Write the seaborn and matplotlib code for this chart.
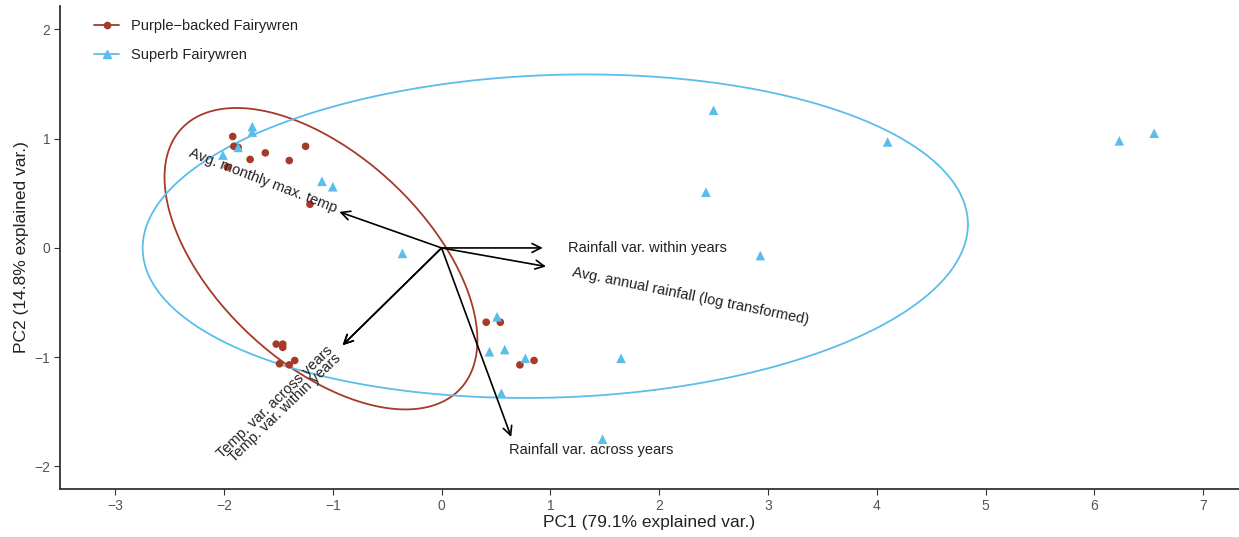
import numpy as np
import pandas as pd
import matplotlib
matplotlib.use("Agg")
import matplotlib.pyplot as plt
from matplotlib.lines import Line2D
import seaborn as sns

# ---- data ----
pb_x = [-1.92, -1.91, -1.87, -1.76, -1.62, -1.40, -1.25, -1.97, -1.21,
        -1.52, -1.46, -1.46, -1.49, -1.40, -1.35,
        0.41, 0.54, 0.72, 0.85]
pb_y = [1.02, 0.93, 0.92, 0.81, 0.87, 0.80, 0.93, 0.74, 0.40,
        -0.88, -0.88, -0.91, -1.06, -1.07, -1.03,
        -0.68, -0.68, -1.07, -1.03]
sf_x = [-1.74, -1.74, -2.01, -1.87, -1.10, -1.00, -0.36,
        0.51, 0.44, 0.58, 0.77, 0.55, 1.65, 1.48,
        2.50, 2.43, 4.10, 6.23, 6.55, 2.93]
sf_y = [1.11, 1.06, 0.85, 0.92, 0.61, 0.56, -0.05,
        -0.63, -0.95, -0.93, -1.01, -1.33, -1.01, -1.75,
        1.26, 0.51, 0.97, 0.98, 1.05, -0.07]
species = ["Purple\u2212backed Fairywren", "Superb Fairywren"]
colors = ["#A5392A", "#5BBDEB"]

var_names = ["Rainfall var. within years", "Avg. annual rainfall (log transformed)",
             "Avg. monthly max. temp", "Temp. var. across years",
             "Temp. var. within years", "Rainfall var. across years"]
var_x = [0.93, 0.96, -0.94, -0.91, -0.91, 0.64]
var_y = [0.00, -0.17, 0.33, -0.89, -0.89, -1.73]

xticks = [-3, -2, -1, 0, 1, 2, 3, 4, 5, 6, 7]
yticks = [-2, -1, 0, 1, 2]

df = pd.DataFrame({
    "PC1": pb_x + sf_x,
    "PC2": pb_y + sf_y,
    "group": [species[0]] * len(pb_x) + [species[1]] * len(sf_x),
})

sns.set_style("white")
plt.rcParams["font.family"] = ["Liberation Sans", "DejaVu Sans"]

fig = plt.figure(figsize=(12.39, 5.37), dpi=100)
ax = fig.add_axes([0.0484, 0.0894, 0.9516, 0.8996])

# ellipses (normal, 68%) computed from the data
r = np.sqrt(-2 * np.log(1 - 0.68))
theta = np.linspace(0, 2 * np.pi, 200)
circ = np.vstack([np.cos(theta), np.sin(theta)])
for sp, col in zip(species, colors):
    sub = df[df.group == sp][["PC1", "PC2"]].to_numpy()
    mu = sub.mean(axis=0)
    cov = np.cov(sub.T)
    L = np.linalg.cholesky(cov)
    pts = mu[:, None] + r * L @ circ
    ax.plot(pts[0], pts[1], color=col, lw=1.3, zorder=2)

for sp, col, mk, sz in zip(species, colors, ["o", "^"], [30, 48]):
    sns.scatterplot(data=df[df.group == sp], x="PC1", y="PC2", color=col,
                    marker=mk, s=sz, edgecolor="none", ax=ax, legend=False,
                    zorder=3)

# variable arrows
for vx, vy in zip(var_x, var_y):
    ax.annotate("", xy=(vx, vy), xytext=(0, 0),
                arrowprops=dict(arrowstyle="->", color="black", lw=1.2,
                                mutation_scale=16, shrinkA=0, shrinkB=0),
                zorder=4)

lab_kw = dict(fontsize=10.5, color="#222222", rotation_mode="anchor", zorder=5)
ax.text(1.16, 0.00, var_names[0], ha="left", va="center", rotation=0, **lab_kw)
ax.text(1.20, -0.22, var_names[1], ha="left", va="center", rotation=-11.5, **lab_kw)
ax.text(-0.97, 0.36, var_names[2], ha="right", va="center", rotation=-21, **lab_kw)
ax.text(-1.02, -0.92, var_names[3], ha="right", va="center", rotation=44, **lab_kw)
ax.text(-0.95, -0.99, var_names[4], ha="right", va="center", rotation=44, **lab_kw)
ax.text(0.62, -1.85, var_names[5], ha="left", va="center", rotation=0, **lab_kw)

ax.set_xlim(-3.508, 7.33)
ax.set_ylim(-2.206, 2.215)
ax.set_xticks(xticks)
ax.set_yticks(yticks)
ax.set_xticklabels([str(t).replace("-", "\u2212") for t in xticks])
ax.set_yticklabels([str(t).replace("-", "\u2212") for t in yticks])
ax.tick_params(axis="both", direction="out", length=4, width=0.8, color="#333333",
               labelsize=10, labelcolor="#555555", pad=3)
ax.tick_params(axis="both", bottom=True, left=True)
for s in ["top", "right"]:
    ax.spines[s].set_visible(False)
for s in ["left", "bottom"]:
    ax.spines[s].set_color("#333333")
    ax.spines[s].set_linewidth(1.3)
ax.set_xlabel("PC1 (79.1% explained var.)", fontsize=12.5, color="#222222", labelpad=2)
ax.set_ylabel("PC2 (14.8% explained var.)", fontsize=12.5, color="#222222", labelpad=4)

handles = [Line2D([0], [0], color=c, marker=m, markersize=m_s, lw=1.3)
           for c, m, m_s in zip(colors, ["o", "^"], [4.5, 5.5])]
leg = ax.legend(handles, species, loc="upper left", bbox_to_anchor=(0.018, 1.0),
                frameon=False, fontsize=10.5, handlelength=1.7, labelspacing=1.0,
                handletextpad=0.8)
for t in leg.get_texts():
    t.set_color("#222222")

fig.savefig("out.png", dpi=100)
